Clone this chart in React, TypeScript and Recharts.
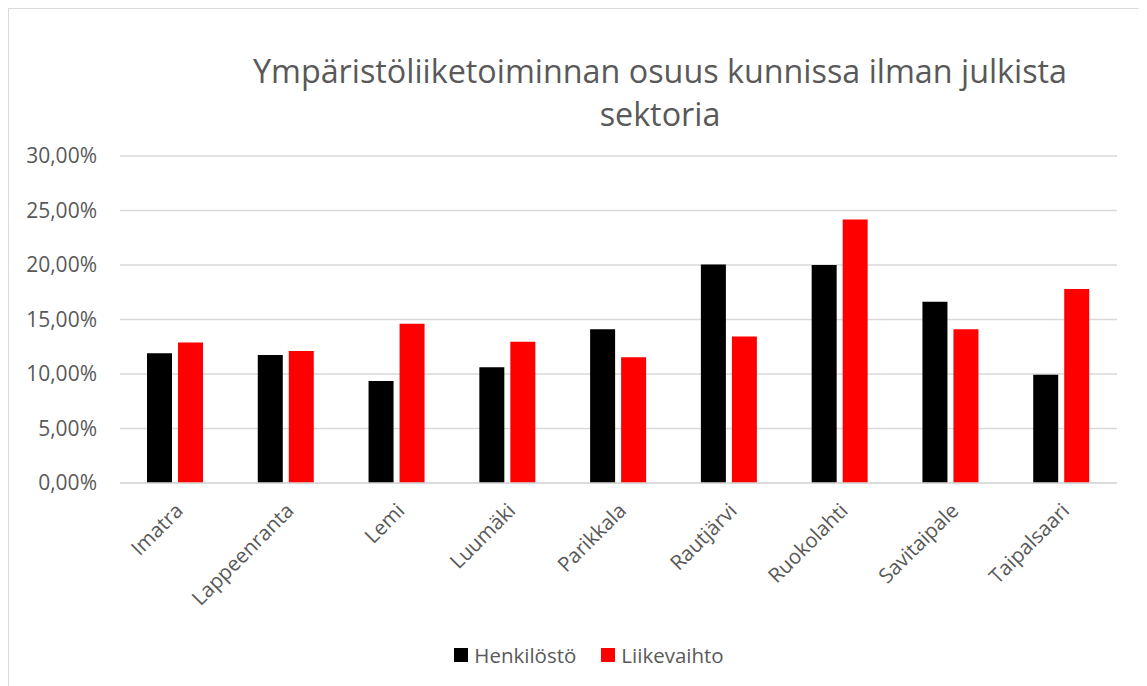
import React from "react";
import {
  BarChart,
  Bar,
  XAxis,
  YAxis,
  CartesianGrid,
  Legend,
} from "recharts";

// kunnat
const municipalities = [
  "Imatra",
  "Lappeenranta",
  "Lemi",
  "Luumäki",
  "Parikkala",
  "Rautjärvi",
  "Ruokolahti",
  "Savitaipale",
  "Taipalsaari",
];

// osuudet prosentteina
const henkilosto = [11.9, 11.75, 9.35, 10.62, 14.1, 20.05, 20.0, 16.63, 9.92];
const liikevaihto = [12.88, 12.11, 14.62, 12.97, 11.54, 13.43, 24.18, 14.1, 17.79];

const yTicks = [0, 5, 10, 15, 20, 25, 30];

const FONT = "'Open Sans', 'Noto Sans', sans-serif";
const TEXT = "#595959";
const GRID = "#d9d9d9";

const data = municipalities.map((name, i) => ({
  name,
  Henkilöstö: henkilosto[i],
  Liikevaihto: liikevaihto[i],
}));

const formatPct = (v: number) => v.toFixed(2).replace(".", ",") + "%";

const XTick = ({ x, y, payload }: any) => {
  const ax = x + 9;
  const ay = y + 21;
  return (
    <text
      x={ax}
      y={ay}
      transform={`rotate(-45, ${ax}, ${ay})`}
      textAnchor="end"
      fill={TEXT}
      fontSize={20.5}
      fontFamily={FONT}
    >
      {payload.value}
    </text>
  );
};

const LegendContent = ({ payload }: any) => (
  <div
    style={{
      display: "flex",
      justifyContent: "center",
      alignItems: "center",
      fontFamily: FONT,
      fontSize: 20.5,
      color: TEXT,
      height: 24,
      paddingLeft: 52,
    }}
  >
    {(payload || []).map((p: any, i: number) => (
      <div
        key={p.value}
        style={{ display: "flex", alignItems: "center", marginLeft: i ? 25 : 0 }}
      >
        <span
          style={{
            display: "inline-block",
            width: 14,
            height: 14,
            background: p.color,
            marginRight: 6,
          }}
        />
        <span>{p.value}</span>
      </div>
    ))}
  </div>
);

export default function App() {
  return (
    <div
      style={{
        position: "relative",
        width: 1139,
        height: 678,
        borderLeft: `1px solid ${GRID}`,
        borderTop: `1px solid ${GRID}`,
        boxSizing: "border-box",
        background: "#fff",
      }}
    >
      <div
        style={{
          position: "absolute",
          left: 160,
          top: 40,
          width: 982,
          textAlign: "center",
          fontFamily: FONT,
          fontSize: 32.3,
          lineHeight: "43px",
          color: TEXT,
        }}
      >
        Ympäristöliiketoiminnan osuus kunnissa ilman julkista
        <br />
        sektoria
      </div>
      <BarChart
        width={1138}
        height={677}
        data={data}
        margin={{ top: 147, right: 30, left: 0, bottom: 19 }}
        barSize={25}
        barGap={6}
      >
        <CartesianGrid vertical={false} stroke={GRID} strokeWidth={1.5} />
        <XAxis
          dataKey="name"
          axisLine={{ stroke: GRID, strokeWidth: 1.5 }}
          tickLine={false}
          interval={0}
          height={160}
          tick={<XTick />}
        />
        <YAxis
          width={111}
          domain={[0, 30]}
          ticks={yTicks}
          axisLine={false}
          tickLine={false}
          tickSize={0}
          tickMargin={23}
          tickFormatter={formatPct}
          tick={{ fill: TEXT, fontSize: 21, fontFamily: FONT }}
        />
        <Legend verticalAlign="bottom" height={24} content={<LegendContent />} />
        <Bar dataKey="Henkilöstö" fill="#000000" isAnimationActive={false} />
        <Bar dataKey="Liikevaihto" fill="#ff0000" isAnimationActive={false} />
      </BarChart>
    </div>
  );
}
